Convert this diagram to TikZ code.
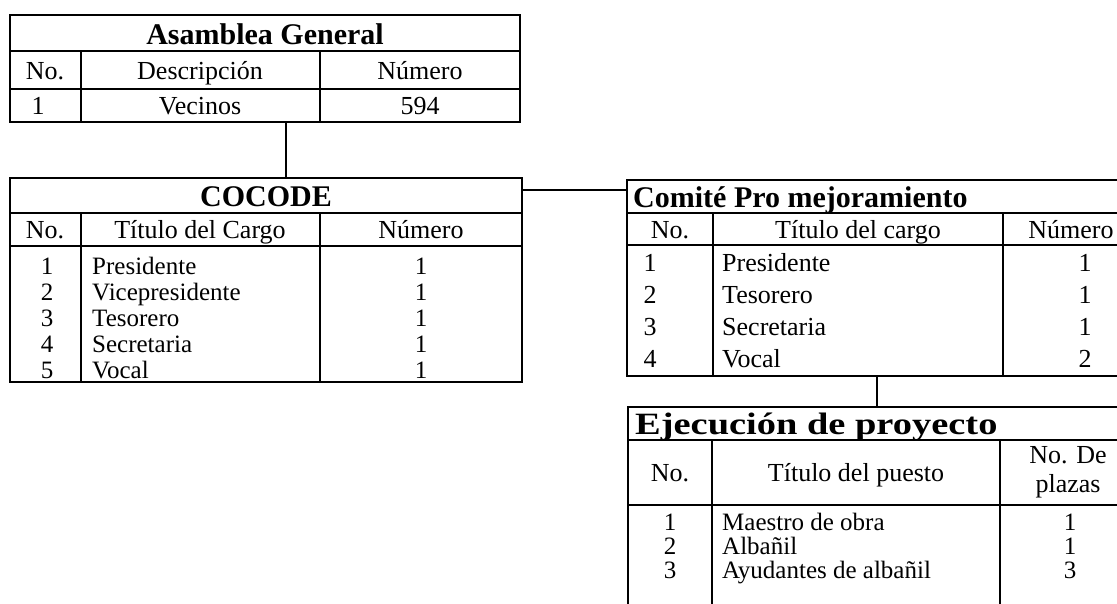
\documentclass[tikz,border=0pt]{standalone}
\usepackage{fontspec}
\setmainfont{Liberation Serif}
\usetikzlibrary{positioning}

\tikzset{
  cell/.style={inner sep=0pt, anchor=base, font=\fontsize{26}{30}\selectfont},
  celltext/.style={cell, anchor=base west},
  rowcell/.style={inner sep=0pt, anchor=base, font=\fontsize{25}{27}\selectfont},
  rowtext/.style={rowcell, anchor=base west},
  headcell/.style={inner sep=0pt, anchor=base, font=\fontsize{30}{32}\selectfont\bfseries},
  rule/.style={line width=2.1pt},
  link/.style={line width=2.1pt}
}

\begin{document}
\begin{tikzpicture}[x=1pt, y=-1pt]

    \useasboundingbox (0,0) rectangle (1117,603);
    \clip (0,0) rectangle (1117,603);

    % Asamblea General
    \draw[rule] (10,15) rectangle (520,122);
    \draw[rule] (10,51) -- (520,51);
    \draw[rule] (10,89) -- (520,89);
    \draw[rule] (81,51) -- (81,122);
    \draw[rule] (320,51) -- (320,122);
    \node[headcell] (asamTitle) at (265,44) {Asamblea General};
    \node[cell] (asamNo) at (45,79) {No.};
    \node[cell] (asamDesc) at (200,79) {Descripción};
    \node[cell] (asamNum) at (420,79) {Número};
    \node[cell] (asamN1) at (38,114) {1};
    \node[cell] (asamD1) at (200,114) {Vecinos};
    \node[cell] (asamV1) at (420,114) {594};

    % COCODE
    \draw[rule] (10,178) rectangle (522,382);
    \draw[rule] (10,213) -- (522,213);
    \draw[rule] (10,246) -- (522,246);
    \draw[rule] (81,213) -- (81,382);
    \draw[rule] (320,213) -- (320,382);
    \node[headcell] (cocoTitle) at (266,206) {COCODE};
    \node[cell] (cocoNo) at (45,238) {No.};
    \node[cell] (cocoCargo) at (200,238) {Título del Cargo};
    \node[cell] (cocoNum) at (421,238) {Número};
    \foreach \name [count=\i] in {Presidente, Vicepresidente, Tesorero, Secretaria, Vocal} {
        \node[rowcell] (cocoN\i) at (47,{265+26*(\i-1)+9}) {\i};
        \node[rowtext] (cocoC\i) at (92,{265+26*(\i-1)+9}) {\name};
        \node[rowcell] (cocoV\i) at (421,{265+26*(\i-1)+9}) {1};
    }

    % Comite Pro mejoramiento
    \draw[rule] (1140,180) -- (627,180) -- (627,376) -- (1140,376);
    \draw[rule] (627,213) -- (1140,213);
    \draw[rule] (627,245) -- (1140,245);
    \draw[rule] (713,213) -- (713,376);
    \draw[rule] (1003,213) -- (1003,376);
    \node[headcell, anchor=base west] (comiTitle) at (633,207) {Comité Pro mejoramiento};
    \node[cell] (comiNo) at (670,238) {No.};
    \node[cell] (comiCargo) at (858,238) {Título del cargo};
    \node[cell] (comiNum) at (1071,238) {Número};
    \foreach \name/\val [count=\i] in {Presidente/1, Tesorero/1, Secretaria/1, Vocal/2} {
        \node[cell] (comiN\i) at (650,{262+32*(\i-1)+9}) {\i};
        \node[celltext] (comiC\i) at (722,{262+32*(\i-1)+9}) {\name};
        \node[cell] (comiV\i) at (1085,{262+32*(\i-1)+9}) {\val};
    }

    % Ejecucion de proyecto
    \draw[rule] (1140,407) -- (628,407) -- (628,610);
    \draw[rule] (628,440) -- (1140,440);
    \draw[rule] (628,505) -- (1140,505);
    \draw[rule] (712,440) -- (712,610);
    \draw[rule] (1000,440) -- (1000,610);
    \node[headcell, anchor=base west, font=\fontsize{31}{32}\selectfont\bfseries\addfontfeatures{FakeStretch=1.24}] (ejecTitle) at (635,434) {Ejecución de proyecto};
    \node[cell] (ejecNo) at (670,481) {No.};
    \node[cell] (ejecPuesto) at (856,481) {Título del puesto};
    \node[cell, anchor=center, align=center, font=\fontsize{26}{29}\selectfont] (ejecPlazas) at (1068,472) {No. De\\plazas};
    \foreach \name/\val [count=\i] in {Maestro de obra/1, Albañil/1, Ayudantes de albañil/3} {
        \node[rowcell] (ejecN\i) at (670,{521+24*(\i-1)+9}) {\i};
        \node[rowtext] (ejecC\i) at (722,{521+24*(\i-1)+9}) {\name};
        \node[rowcell] (ejecV\i) at (1070,{521+24*(\i-1)+9}) {\val};
    }

    % Connectors
    \coordinate (asamBottom) at (286,122);
    \coordinate (cocoTop) at (286,178);
    \coordinate (cocoRight) at (522,190);
    \coordinate (comiLeft) at (627,190);
    \coordinate (comiBottom) at (877,376);
    \coordinate (ejecTop) at (877,407);
    \draw[link] (asamBottom) -- (cocoTop);
    \draw[link] (cocoRight) -- (comiLeft);
    \draw[link] (comiBottom) -- (ejecTop);

\end{tikzpicture}
\end{document}
